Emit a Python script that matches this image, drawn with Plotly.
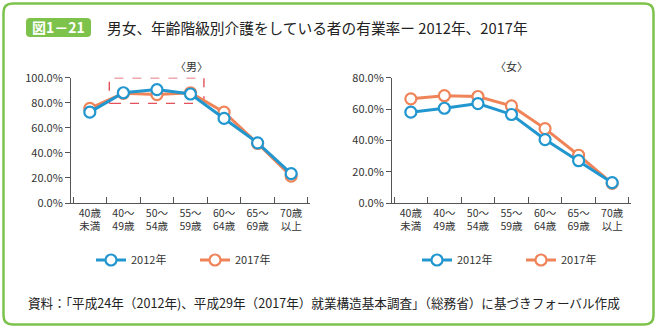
import plotly.graph_objects as go

W, H = 657, 329
FONT = "Noto Sans CJK JP"

categories = ["40歳<br>未満", "40～<br>49歳", "50～<br>54歳", "55～<br>59歳", "60～<br>64歳", "65～<br>69歳", "70歳<br>以上"]
years = ["2012年", "2017年"]
men_2012 = [72.5, 88.0, 90.5, 87.0, 67.5, 48.0, 23.5]
men_2017 = [75.5, 87.5, 86.5, 88.0, 72.5, 47.5, 21.5]
women_2012 = [58.0, 60.5, 63.5, 56.5, 40.5, 27.0, 13.0]
women_2017 = [66.5, 68.5, 68.0, 62.0, 47.5, 30.5, 12.5]

title = "男女、年齢階級別介護をしている者の有業率ー 2012年、2017年"
badge = "図1－21"
source = "資料：「平成24年（2012年)、平成29年（2017年）就業構造基本調査」（総務省）に基づきフォーバル作成"
panel_titles = ["〈男〉", "〈女〉"]

BLUE = "#2196cf"
ORANGE = "#ef8459"
GREEN = "#7dc24b"
AX = "#555555"

fig = go.Figure()

def px(x): return x / W
def py(y): return 1 - y / H

panels = [
    dict(x="x", y="y", data=[men_2012, men_2017], legend="legend"),
    dict(x="x2", y="y2", data=[women_2012, women_2017], legend="legend2"),
]

# draw 2017 first so 2012 is on top (as in reference), legend order 2012, 2017
for p in panels:
    for idx in [1, 0]:
        col = [BLUE, ORANGE][idx]
        fig.add_trace(go.Scatter(
            x=categories, y=p["data"][idx], name=years[idx],
            xaxis=p["x"], yaxis=p["y"], legend=p["legend"],
            mode="lines+markers", cliponaxis=False,
            line=dict(color=col, width=3),
            marker=dict(symbol="circle", size=11, color="white", line=dict(color=col, width=2.2)),
            legendrank=idx + 1, hoverinfo="skip",
        ))

ydom = [py(203), py(77.7)]
xcommon = dict(type="category", tickson="boundaries", ticks="inside", ticklen=6, tickcolor=AX,
               showline=True, linecolor=AX, linewidth=1, showgrid=False, zeroline=False, tickangle=0,
               tickfont=dict(family=FONT, size=10.5, color="#333"), fixedrange=True, automargin=False)
ycommon = dict(ticks="outside", ticklen=5, tickcolor=AX, showline=True, linecolor=AX, linewidth=1,
               showgrid=False, zeroline=False, tickformat=".1f", ticksuffix="%", dtick=20,
               tickfont=dict(family=FONT, size=11, color="#333"), fixedrange=True, automargin=False)

legend_common = dict(orientation="h", xanchor="left", yanchor="middle", traceorder="normal",
                     entrywidth=59, entrywidthmode="pixels",
                     font=dict(family=FONT, size=11, color="#333"), bgcolor="rgba(0,0,0,0)")

fig.update_layout(
    width=W, height=H, margin=dict(l=0, r=0, t=0, b=0, autoexpand=False),
    paper_bgcolor="white", plot_bgcolor="white",
    font=dict(family=FONT, color="#333"),
    xaxis=dict(domain=[px(71), px(310)], anchor="y", **xcommon),
    yaxis=dict(domain=ydom, anchor="x", range=[0, 100], **ycommon),
    xaxis2=dict(domain=[px(392), px(631)], anchor="y2", **xcommon),
    yaxis2=dict(domain=ydom, anchor="x2", range=[0, 80], **ycommon),
    legend=dict(x=px(91), y=py(260), **legend_common),
    legend2=dict(x=px(417), y=py(260), **legend_common),
)

def rounded(x0, y0, x1, y1, r):
    return (f"M {x0+r},{y0} L {x1-r},{y0} Q {x1},{y0} {x1},{y0+r} L {x1},{y1-r} Q {x1},{y1} {x1-r},{y1} "
            f"L {x0+r},{y1} Q {x0},{y1} {x0},{y1-r} L {x0},{y0+r} Q {x0},{y0} {x0+r},{y0} Z")

def rounded_paper(x0, y0, x1, y1, r):
    rx, ry = r / W, r / H
    X0, X1 = px(x0), px(x1)
    Y0, Y1 = py(y0), py(y1)
    return (f"M {X0+rx},{Y0} L {X1-rx},{Y0} Q {X1},{Y0} {X1},{Y0-ry} L {X1},{Y1+ry} Q {X1},{Y1} {X1-rx},{Y1} "
            f"L {X0+rx},{Y1} Q {X0},{Y1} {X0},{Y1+ry} L {X0},{Y0-ry} Q {X0},{Y0} {X0+rx},{Y0} Z")

# outer border
fig.add_shape(type="path", xref="paper", yref="paper", path=rounded_paper(3.5, 3.5, 653.5, 324.5, 9),
              line=dict(color=GREEN, width=2.5), fillcolor="rgba(0,0,0,0)", layer="below")
# badge
fig.add_shape(type="path", xref="paper", yref="paper", path=rounded_paper(26, 18, 91, 37, 4),
              line=dict(color=GREEN, width=0), fillcolor=GREEN, layer="below")
fig.add_annotation(x=px(58.5), y=py(27.5), xref="paper", yref="paper", text=f"<b>{badge}</b>",
                   showarrow=False, font=dict(family=FONT, size=14, color="white"),
                   xanchor="center", yanchor="middle")
fig.add_annotation(x=px(105), y=py(27.5), xref="paper", yref="paper", text=title,
                   showarrow=False, font=dict(family=FONT, size=14.7, color="#222"),
                   xanchor="left", yanchor="middle")
# panel titles
fig.add_annotation(x=px(191), y=py(66), xref="paper", yref="paper", text=panel_titles[0],
                   showarrow=False, font=dict(family=FONT, size=11, color="#333"), xanchor="center", yanchor="middle")
fig.add_annotation(x=px(511), y=py(66), xref="paper", yref="paper", text=panel_titles[1],
                   showarrow=False, font=dict(family=FONT, size=11, color="#333"), xanchor="center", yanchor="middle")
# source
fig.add_annotation(x=px(26), y=py(302), xref="paper", yref="paper", text=source,
                   showarrow=False, font=dict(family=FONT, size=12.6, color="#222"), xanchor="left", yanchor="middle")

# dashed highlight box on men's chart (data coords: category index, percent)
fig.add_shape(type="path", xref="x", yref="y", path=rounded(0.58, 79.5, 3.4, 100, 0.08),
              line=dict(color="#e4505c", width=1.4, dash="dash"), fillcolor="rgba(0,0,0,0)", layer="below")

fig.write_html("out.html")
